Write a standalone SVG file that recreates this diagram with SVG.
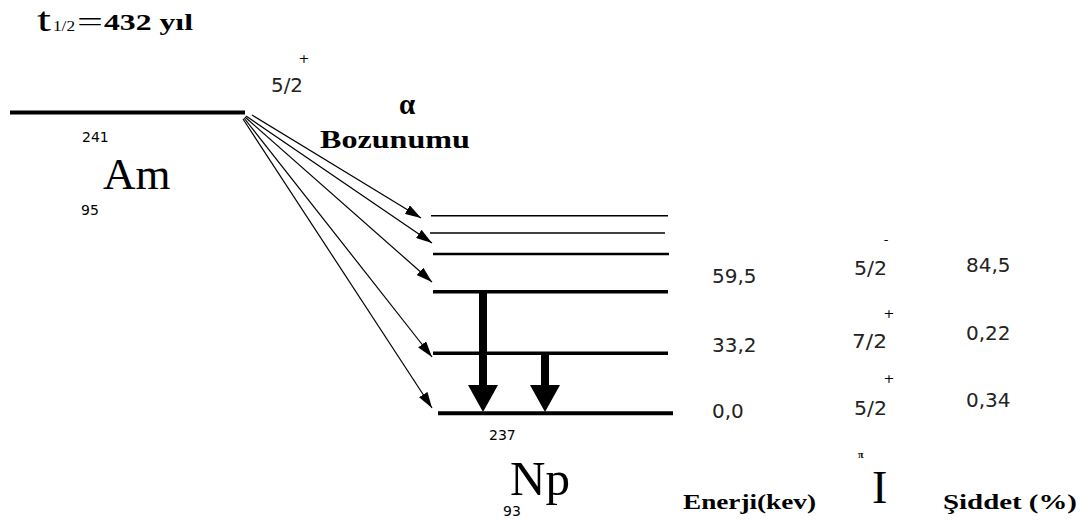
<svg xmlns="http://www.w3.org/2000/svg" width="1082" height="521" viewBox="0 0 1082 521">
<style>
.lvl{stroke:#000;fill:none}
.a{stroke:#000;stroke-width:1.2;fill:none}
.num{font-family:"DejaVu Sans",sans-serif;font-size:20px;fill:#222}
.sm{font-family:"DejaVu Sans",sans-serif;font-size:14px;fill:#000}
.sup{font-family:"DejaVu Sans",sans-serif;font-size:13px;fill:#000;text-anchor:middle}
.el{font-family:"Liberation Serif",serif;fill:#000}
.bs{font-family:"Liberation Serif",serif;font-weight:bold;fill:#000}
</style>
<defs>
<marker id="ah" markerUnits="userSpaceOnUse" markerWidth="16" markerHeight="10" viewBox="0 0 16 10" refX="16" refY="5" orient="auto">
<path d="M0,0 L16,5 L0,10 z" fill="#000"/>
</marker>
</defs>
<rect width="1082" height="521" fill="#fff"/>

<g id="title">
<text class="el" x="37" y="31" font-size="33" textLength="14" lengthAdjust="spacingAndGlyphs">t</text>
<text class="el" x="53" y="31" font-size="14" textLength="22" lengthAdjust="spacingAndGlyphs">1/2</text>
<text class="el" x="77" y="31" font-size="28" textLength="26" lengthAdjust="spacingAndGlyphs">=</text>
<text class="bs" x="104" y="30" font-size="23" textLength="89" lengthAdjust="spacingAndGlyphs">432 yıl</text>
</g>

<g id="am">
<line class="lvl" x1="10" y1="112.5" x2="245" y2="112.5" stroke-width="4"/>
<text class="num" x="271" y="92" textLength="32" lengthAdjust="spacingAndGlyphs">5/2</text>
<text class="sup" x="304" y="63">+</text>
<text class="sm" x="82" y="142">241</text>
<text class="el" x="103" y="189" font-size="45">Am</text>
<text class="sm" x="81" y="215">95</text>
</g>

<g id="alpha-label">
<text class="bs" x="399" y="114" font-size="29">α</text>
<text class="bs" x="320" y="148" font-size="26" textLength="150" lengthAdjust="spacingAndGlyphs">Bozunumu</text>
</g>

<g id="np">
<line class="lvl" x1="431" y1="215.7" x2="668" y2="215.7" stroke-width="1.5"/>
<line class="lvl" x1="430" y1="233" x2="665" y2="233" stroke-width="1.5" stroke="#333"/>
<line class="lvl" x1="433" y1="254" x2="669" y2="254" stroke-width="2.5"/>
<line class="lvl" x1="433" y1="291.7" x2="668" y2="291.7" stroke-width="3.5"/>
<line class="lvl" x1="433" y1="353.3" x2="668" y2="353.3" stroke-width="3.5"/>
<line class="lvl" x1="438" y1="413.3" x2="673" y2="413.3" stroke-width="4"/>
<text class="sm" x="489" y="440">237</text>
<text class="el" x="510" y="495" font-size="48" textLength="60" lengthAdjust="spacingAndGlyphs">Np</text>
<text class="sm" x="503" y="516">93</text>
</g>

<g id="energies">
<text class="num" x="712" y="283">59,5</text>
<text class="num" x="712" y="352">33,2</text>
<text class="num" x="712" y="418">0,0</text>
</g>

<g id="spins">
<text class="num" x="854" y="275" textLength="33" lengthAdjust="spacingAndGlyphs">5/2</text>
<text class="sup" x="886" y="244">-</text>
<text class="num" x="852" y="348" textLength="35" lengthAdjust="spacingAndGlyphs">7/2</text>
<text class="sup" x="889" y="318">+</text>
<text class="num" x="854" y="415" textLength="33" lengthAdjust="spacingAndGlyphs">5/2</text>
<text class="sup" x="889" y="383">+</text>
</g>

<g id="intensities">
<text class="num" x="966" y="272">84,5</text>
<text class="num" x="966" y="340">0,22</text>
<text class="num" x="966" y="407">0,34</text>
</g>

<g id="headers">
<text class="bs" x="683" y="509" font-size="20" textLength="133" lengthAdjust="spacingAndGlyphs">Enerji(kev)</text>
<text class="bs" x="858" y="458" font-size="10">π</text>
<text class="el" x="872" y="503" font-size="46">I</text>
<text class="bs" x="943" y="509" font-size="20" textLength="134" lengthAdjust="spacingAndGlyphs">Şiddet (%)</text>
</g>

<g id="connectors">
<line class="a" x1="252" y1="115" x2="421" y2="218" marker-end="url(#ah)"/>
<line class="a" x1="246" y1="116" x2="432" y2="243" marker-end="url(#ah)"/>
<line class="a" x1="245" y1="117" x2="432" y2="282" marker-end="url(#ah)"/>
<line class="a" x1="244" y1="118" x2="432" y2="357" marker-end="url(#ah)"/>
<line class="a" x1="243" y1="119" x2="432" y2="408" marker-end="url(#ah)"/>
<path d="M479,291.7 H487 V385 H498 L483,412 L468,385 H479 Z" fill="#000"/>
<path d="M541,353.3 H549 V385 H560 L545,412 L530,385 H541 Z" fill="#000"/>
</g>
</svg>
